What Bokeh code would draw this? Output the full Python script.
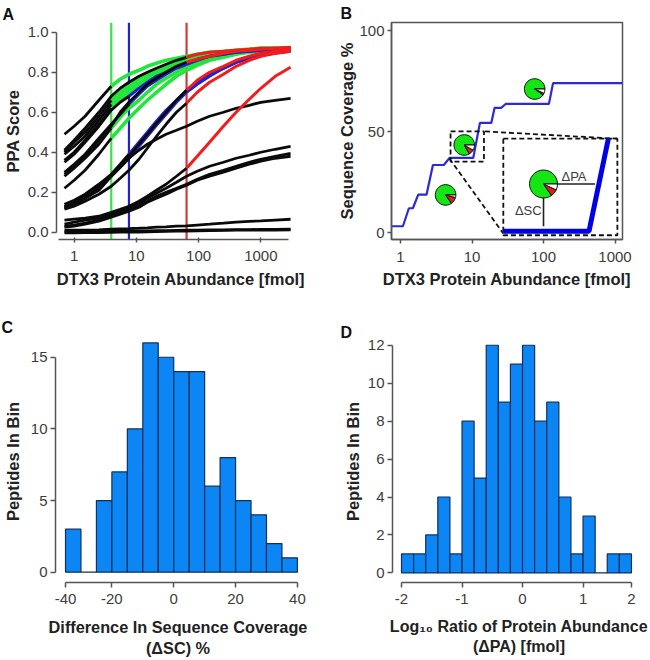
from bokeh.plotting import figure
from bokeh.layouts import column, row
from bokeh.models import FixedTicker, Range1d
from bokeh.embed import file_html
from bokeh.resources import INLINE
from bokeh.core.properties import value
import math

FONT = "Liberation Sans"
INK = "#3c3c3c"
AXIS = "#555555"
BAR = "#0c86f4"
EDGE = "#10305a"

# Panel A: PPA score curves read at these abundances
a_x = [0.7, 1, 1.5, 2.5, 3.95, 5.5, 7.6, 11, 15, 21, 30, 44, 64, 95, 150, 250, 400, 650, 1000, 1700, 3000]
c00 = [.49, .53, .58, .66, .73, .765, .79, .81, .83, .845, .86, .87, .88, .89, .90, .905, .91, .915, .92, .92, .92]
c01 = [.41, .46, .52, .60, .68, .72, .75, .78, .80, .82, .84, .86, .875, .89, .90, .905, .91, .915, .92, .92, .925]
c02 = [.40, .45, .50, .58, .66, .70, .73, .765, .79, .81, .83, .845, .86, .875, .89, .90, .905, .91, .915, .92, .92]
c03 = [.39, .43, .48, .56, .64, .68, .71, .745, .77, .80, .82, .84, .86, .875, .89, .90, .91, .915, .92, .92, .92]
c04 = [.36, .40, .46, .54, .62, .665, .70, .74, .77, .79, .81, .83, .85, .865, .88, .89, .90, .905, .91, .915, .92]
c05 = [.35, .39, .45, .53, .61, .65, .68, .72, .75, .78, .80, .825, .845, .865, .88, .89, .90, .905, .91, .915, .92]
c06 = [.30, .34, .39, .47, .54, .59, .64, .69, .73, .76, .79, .82, .84, .86, .88, .89, .90, .905, .91, .915, .92]
c07 = [.29, .33, .38, .46, .53, .60, .65, .70, .74, .77, .80, .83, .85, .865, .88, .895, .905, .91, .915, .92, .92]
c08 = [.28, .32, .37, .44, .52, .575, .62, .66, .70, .74, .77, .80, .83, .85, .87, .885, .90, .905, .91, .915, .92]
c09 = [.22, .26, .31, .39, .47, .52, .57, .62, .66, .70, .74, .78, .81, .835, .86, .875, .89, .90, .905, .91, .915]
c10 = [.14, .16, .19, .24, .29, .34, .39, .45, .50, .555, .61, .66, .71, .75, .79, .82, .85, .87, .89, .90, .91]
c11 = [.13, .15, .18, .23, .285, .33, .38, .44, .49, .545, .60, .66, .71, .76, .80, .83, .86, .88, .895, .905, .915]
c12 = [.12, .14, .17, .22, .28, .325, .37, .43, .48, .535, .59, .65, .70, .74, .78, .82, .85, .87, .885, .895, .905]
c13 = [.115, .13, .155, .19, .23, .27, .31, .365, .42, .48, .54, .60, .645, .70, .75, .79, .83, .86, .88, .895, .905]
c14 = [.125, .14, .17, .21, .28, .325, .37, .41, .44, .465, .49, .51, .53, .555, .58, .60, .62, .635, .65, .66, .67]
c15 = [.06, .065, .07, .08, .10, .115, .13, .155, .18, .21, .24, .28, .32, .38, .45, .53, .60, .665, .72, .78, .825]
c16 = [.04, .05, .06, .07, .09, .105, .12, .145, .17, .195, .22, .25, .28, .305, .33, .35, .37, .385, .40, .415, .43]
c17 = [.03, .035, .045, .06, .08, .097, .115, .135, .155, .18, .20, .22, .24, .265, .29, .31, .33, .35, .365, .38, .395]
c18 = [.025, .03, .04, .055, .075, .09, .105, .125, .15, .17, .19, .215, .235, .26, .28, .30, .32, .34, .355, .37, .38]
c19 = [.01, .01, .01, .012, .015, .017, .018, .02, .022, .025, .027, .03, .032, .036, .04, .045, .05, .054, .057, .061, .065]
c20 = [.002, .002, .003, .004, .005, .005, .006, .006, .007, .008, .008, .009, .01, .01, .011, .012, .013, .013, .014, .014, .015]
c21 = [-.003, -.003, -.002, -.002, -.001, 0, 0, .001, .002, .003, .004, .005, .006, .007, .008, .009, .01, .01, .011, .011, .012]
a_curves = [c00, c01, c02, c03, c04, c05, c06, c07, c08, c09, c10,
            c11, c12, c13, c14, c15, c16, c17, c18, c19, c20, c21]
a_kinds = ["G", "R", "G", "G", "G", "B", "B", "R", "G", "G", "B",
           "R", "B", "R", "K", "R", "K", "K", "K", "K", "K", "K"]
a_limits = [3.95, 7.6, 64]
a_limit_colors = ["#3fe04c", "#2222cc", "#d23a3a"]
kind_break = {"G": 3.95, "B": 7.6, "R": 64, "K": 3000}
kind_color = {"G": "#22e63a", "B": "#2222cc", "R": "#f21c1c"}
a_yticks = [0, .2, .4, .6, .8, 1]
log_ticks = [1, 10, 100, 1000]
log_labels = {1: "1", 10: "10", 100: "100", 1000: "1000"}

# Panel B: coverage step line and its annotations
b_x = [.75, 1.08, 1.31, 1.49, 1.77, 2.31, 2.84, 4.04, 4.85, 10.4, 12.9, 18.6, 20.7, 25.6, 29.5, 119, 136, 1273]
b_y = [3.3, 3.3, 12.2, 12.2, 18.9, 18.9, 33.6, 33.6, 37.1, 37.1, 54.4, 54.4, 61.9, 61.9, 63.8, 63.8, 74.1, 74.1]
pie_x = [4.27, 7.78, 75.2]
pie_y = [18.8, 43.5, 71.2]
pie_white = [15, 30, 25]
pie_red = [55, 60, 35]
inset_pie_x = [100]
inset_pie_y = [24.2]
inset_white = [25]
inset_red = [55]
small_box_x = [5.01, 14.7, 14.7, 5.01, 5.01]
small_box_y = [50.2, 50.2, 35.3, 35.3, 50.2]
big_box_x = [27.4, 1079, 1079, 27.4, 27.4]
big_box_y = [46.6, 46.6, -1.15, -1.15, 46.6]
link_top_x = [15.2, 1079]
link_top_y = [50.2, 46.6]
link_low_x = [4.85, 27.4]
link_low_y = [36.7, -.3]
inset_line_x = [27.4, 433, 807]
inset_line_y = [.8, .8, 46.6]
delta_sc_x = [100, 100]
delta_sc_y = [24.2, 3.3]
delta_pa_x = [100, 525]
delta_pa_y = [24.2, 24.2]

# Panel C histogram (bins are uneven against the printed ticks)
c_counts = [3, 0, 5, 7, 10, 16, 15, 14, 14, 6, 8, 5, 4, 2, 1]
c_tick_pos = [0, 3, 7, 11, 15]
c_tick_text = ["-40", "-20", "0", "20", "40"]
c_yticks = [0, 5, 10, 15]

# Panel D histogram
d_counts = [1, 1, 2, 4, 1, 8, 5, 12, 9, 11, 12, 8, 9, 4, 1, 3, 0, 1, 1]
d_tick_pos = [0, 5, 10, 15, 19]
d_tick_text = ["-2", "-1", "0", "1", "2"]
d_yticks = [0, 2, 4, 6, 8, 10, 12]


def base(letter, w, h, xr, yr, left, right, top, bottom, standoff, letter_x, x_type="linear"):
    p = figure(width=w, height=h, x_range=Range1d(*xr), y_range=Range1d(*yr), title=letter,
               x_axis_type=x_type, toolbar_location=None, output_backend="svg",
               min_border_left=left, min_border_right=right,
               min_border_top=top, min_border_bottom=bottom)
    p.title.align = "left"
    p.title.offset = letter_x - left
    p.title.standoff = standoff
    p.title.text_font = FONT
    p.title.text_font_style = "bold"
    p.title.text_font_size = "16px"
    p.title.text_color = "#111111"
    p.grid.visible = False
    p.outline_line_color = None
    p.background_fill_color = "white"
    p.border_fill_color = "white"
    for ax in (p.xaxis[0], p.yaxis[0]):
        ax.axis_line_color = AXIS
        ax.axis_line_width = 1.5
        ax.major_tick_line_color = AXIS
        ax.major_tick_line_width = 1.5
        ax.minor_tick_line_color = None
        ax.major_label_text_font = FONT
        ax.major_label_text_font_size = "15px"
        ax.major_label_text_color = INK
        ax.axis_label_text_font = FONT
        ax.axis_label_text_font_style = "bold"
        ax.axis_label_text_font_size = "16.5px"
        ax.axis_label_text_color = "#222222"
    return p


# ---------- A ----------
pa = base("A", 325, 300, (.521, 5212), (-.0364, 1.049), 55, 20, 21, 58, 0, 1, "log")
pa.segment(a_limits, [-.0364] * 3, a_limits, [1.049] * 3, line_color=a_limit_colors, line_width=2.2)
for kind_order in ("G", "B"):
    for ys, k in zip(a_curves, a_kinds):
        if k == kind_order:
            keep = [i for i, x in enumerate(a_x) if x >= kind_break[k]]
            pa.line([a_x[i] for i in keep], [ys[i] for i in keep], line_color=kind_color[k],
                    line_width=3.6 if k == "G" else 3)
for ys, k in zip(a_curves, a_kinds):
    keep = [i for i, x in enumerate(a_x) if x <= kind_break[k]]
    pa.line([a_x[i] for i in keep], [ys[i] for i in keep], line_color="#0a0a0a", line_width=2.8)
for ys, k in zip(a_curves, a_kinds):
    if k == "R":
        keep = [i for i, x in enumerate(a_x) if x >= kind_break[k]]
        pa.line([a_x[i] for i in keep], [ys[i] for i in keep], line_color=kind_color[k], line_width=3)
pa.xaxis[0].ticker = FixedTicker(ticks=log_ticks)
pa.xaxis[0].major_label_overrides = log_labels
pa.xaxis[0].bounds = (.56, 2785)
pa.xaxis[0].major_tick_in = 2
pa.xaxis[0].major_tick_out = 3
pa.xaxis[0].major_label_standoff = 8
pa.xaxis[0].axis_label = "DTX3 Protein Abundance [fmol]"
pa.xaxis[0].axis_label_standoff = 6
pa.yaxis[0].ticker = FixedTicker(ticks=a_yticks)
pa.yaxis[0].major_label_overrides = {0: "0.0", .2: "0.2", .4: "0.4", .6: "0.6", .8: "0.8", 1: "1.0"}
pa.yaxis[0].bounds = (0, 1)
pa.yaxis[0].major_tick_in = 0
pa.yaxis[0].major_tick_out = 5
pa.yaxis[0].major_label_standoff = 3
pa.yaxis[0].axis_label = "PPA Score"
pa.yaxis[0].axis_label_standoff = 3

# ---------- B ----------
pb = base("B", 325, 300, (.748, 1273), (-3.26, 104.1), 66, 28, 22, 61, 1, 15, "log")
pb.outline_line_color = AXIS
pb.outline_line_width = 1.5
pb.line(b_x, b_y, line_color="#2a2ad8", line_width=2.2)
for xs, ys in ((small_box_x, small_box_y), (big_box_x, big_box_y),
               (link_top_x, link_top_y), (link_low_x, link_low_y)):
    pb.line(xs, ys, line_color="#111111", line_width=1.8, line_dash="5 3")
pb.line(inset_line_x, inset_line_y, line_color="#0000e6", line_width=5)
pb.line(delta_sc_x, delta_sc_y, line_color="#222222", line_width=1.6)
pb.line(delta_pa_x, delta_pa_y, line_color="#222222", line_width=1.6)


def pies(p, xs, ys, whites, reds, radius):
    rad = math.pi / 180
    pw = dict(radius=radius, radius_units="screen", line_color="#111111", line_width=1)
    p.wedge(xs, ys, start_angle=[0] * len(xs), end_angle=[-r * rad for r in reds],
            fill_color="#14e614", **pw)
    p.wedge(xs, ys, start_angle=[-r * rad for r in reds], end_angle=[-w * rad for w in whites],
            fill_color="#e81818", **pw)
    p.wedge(xs, ys, start_angle=[-w * rad for w in whites], end_angle=[0] * len(xs),
            fill_color="white", **pw)


pies(pb, pie_x, pie_y, pie_white, pie_red, 10.3)
pies(pb, inset_pie_x, inset_pie_y, inset_white, inset_red, 14)
pb.text([267], [27.7], text=["ΔPA"], text_font=value(FONT), text_font_size="13px",
        text_color=INK, text_align="center", text_baseline="middle")
pb.text([61.2], [10.9], text=["ΔSC"], text_font=value(FONT), text_font_size="13px",
        text_color=INK, text_align="center", text_baseline="middle")
pb.xaxis[0].ticker = FixedTicker(ticks=log_ticks)
pb.xaxis[0].major_label_overrides = log_labels
pb.xaxis[0].major_tick_in = 0
pb.xaxis[0].major_tick_out = 4
pb.xaxis[0].major_label_standoff = 8
pb.xaxis[0].axis_label = "DTX3 Protein Abundance [fmol]"
pb.xaxis[0].axis_label_standoff = 5
pb.yaxis[0].ticker = FixedTicker(ticks=[0, 50, 100])
pb.yaxis[0].major_tick_in = 0
pb.yaxis[0].major_tick_out = 4
pb.yaxis[0].major_label_standoff = 3
pb.yaxis[0].axis_label = "Sequence Coverage %"
pb.yaxis[0].axis_label_standoff = 0

# ---------- C ----------
pc = base("C", 325, 360, (-.647, 15.2), (-.72, 16.17), 55, 25, 40, 78, 9, 1)
pc.quad(left=list(range(len(c_counts))), right=list(range(1, len(c_counts) + 1)),
        bottom=[0] * len(c_counts), top=c_counts, fill_color=BAR, line_color=EDGE, line_width=1.2)
pc.xaxis[0].ticker = FixedTicker(ticks=c_tick_pos)
pc.xaxis[0].major_label_overrides = dict(zip(c_tick_pos, c_tick_text))
pc.xaxis[0].bounds = (0, 15)
pc.xaxis[0].major_tick_in = 0
pc.xaxis[0].major_tick_out = 5
pc.xaxis[0].major_label_standoff = 6
pc.xaxis[0].axis_label = "Difference In Sequence Coverage\n(ΔSC) %"
pc.xaxis[0].axis_label_text_font_size = "16.3px"
pc.xaxis[0].axis_label_standoff = 11
pc.yaxis[0].ticker = FixedTicker(ticks=c_yticks)
pc.yaxis[0].bounds = (0, 15)
pc.yaxis[0].major_tick_in = 0
pc.yaxis[0].major_tick_out = 5
pc.yaxis[0].major_label_standoff = 3
pc.yaxis[0].axis_label = "Peptides In Bin"
pc.yaxis[0].axis_label_standoff = 6

# ---------- D ----------
pd_ = base("D", 325, 360, (-.744, 20.16), (-.506, 12.25), 67, 5, 30, 78, 0, 15)
pd_.quad(left=list(range(len(d_counts))), right=list(range(1, len(d_counts) + 1)),
         bottom=[0] * len(d_counts), top=d_counts, fill_color=BAR, line_color=EDGE, line_width=1.2)
pd_.xaxis[0].ticker = FixedTicker(ticks=d_tick_pos)
pd_.xaxis[0].major_label_overrides = dict(zip(d_tick_pos, d_tick_text))
pd_.xaxis[0].bounds = (0, 19)
pd_.xaxis[0].major_tick_in = 0
pd_.xaxis[0].major_tick_out = 5
pd_.xaxis[0].major_label_standoff = 6
pd_.xaxis[0].axis_label = "Log₁₀ Ratio of Protein Abundance\n(ΔPA) [fmol]"
pd_.xaxis[0].axis_label_text_font_size = "16px"
pd_.xaxis[0].axis_label_standoff = 11
pd_.yaxis[0].ticker = FixedTicker(ticks=d_yticks)
pd_.yaxis[0].bounds = (0, 12)
pd_.yaxis[0].major_tick_in = 0
pd_.yaxis[0].major_tick_out = 5
pd_.yaxis[0].major_label_standoff = 3
pd_.yaxis[0].axis_label = "Peptides In Bin"
pd_.yaxis[0].axis_label_standoff = 3

page = column(row(pa, pb, spacing=0), row(pc, pd_, spacing=0), spacing=0)
open("out.html", "w").write(file_html(page, INLINE))
